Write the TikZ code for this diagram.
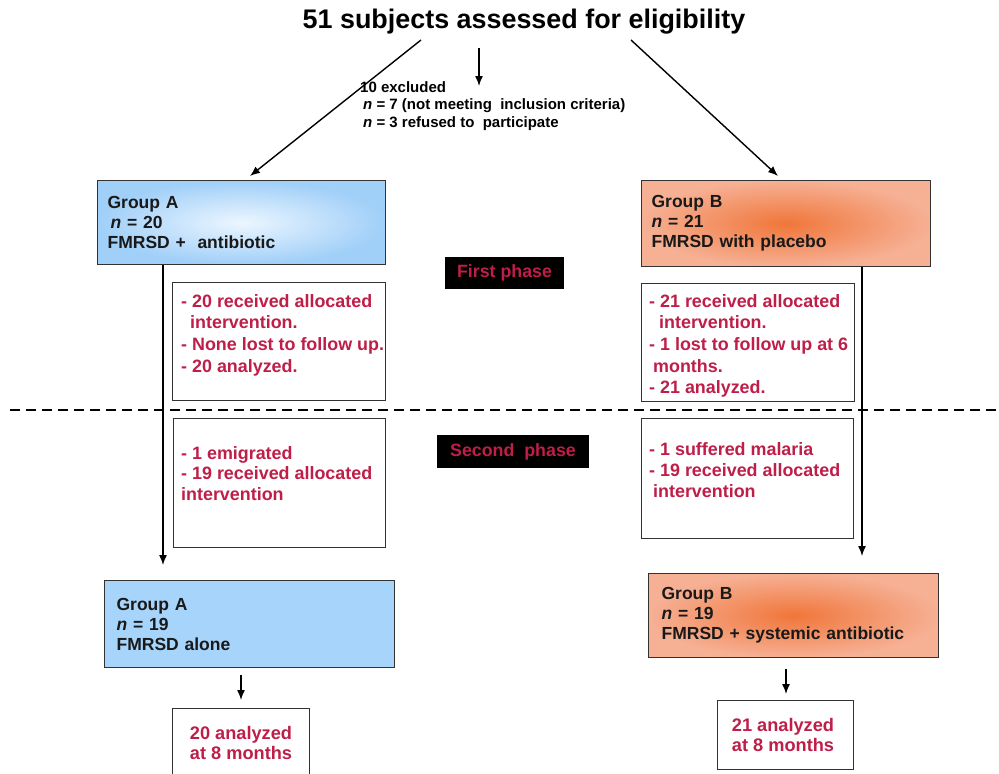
\documentclass[tikz,border=0pt]{standalone}
\usepackage{fontspec}
\setmainfont{Liberation Sans}
\usetikzlibrary{arrows.meta,calc}
\definecolor{txtred}{RGB}{190,30,72}
\definecolor{boxline}{RGB}{50,50,50}
\definecolor{blueedge}{RGB}{160,207,248}
\definecolor{bluemid}{RGB}{236,246,255}
\definecolor{blueflat}{RGB}{166,212,250}
\definecolor{orcore}{RGB}{240,118,58}
\definecolor{oredge}{RGB}{246,176,148}
\tikzset{
 grpbox/.style={draw=boxline, line width=1.2pt, anchor=north west, inner xsep=10pt, inner ysep=0pt, align=left, font=\fontsize{17.5}{20}\selectfont\bfseries, text=black!90},
 redbox/.style={draw=boxline, line width=1.2pt, fill=white, anchor=north west, inner sep=0pt},
 redtext/.style={anchor=north west, inner sep=0pt, align=left, text=txtred, font=\fontsize{17.9}{21.7}\selectfont\bfseries},
 phasebox/.style={fill=black, text=txtred, font=\fontsize{17.8}{18}\selectfont\bfseries, inner sep=0pt},
 arr/.style={-{Latex[length=10pt,width=8pt]}, line width=1.4pt},
 phaseline/.style={line width=1.8pt, dash pattern=on 10pt off 6pt},
}
\begin{document}
\begin{tikzpicture}[x=1pt,y=-1pt]
\clip (0,0) rectangle (999,774);
\fill[white] (0,0) rectangle (999,774);

% title
\node[font=\fontsize{26.9}{30}\selectfont\bfseries, inner sep=0pt] (title) at (524,22) {51 subjects assessed for eligibility};

% exclusion text
\node[anchor=north west, inner sep=0pt, align=left, font=\fontsize{15}{17.5}\selectfont\bfseries] (excl) at (360,81)
 {10 excluded\\\hspace*{3pt}\textit{n} = 7 (not meeting\ \ inclusion criteria)\\\hspace*{3pt}\textit{n} = 3 refused to\ \ participate};

% groups first phase
\node[grpbox, inner color=bluemid, outer color=blueedge, text width=268pt, minimum height=84pt] (gA) at (97,180)
 {Group A\\\hspace*{3pt}\textit{n} = 20\\FMRSD +\ \ antibiotic};
\node[grpbox, inner color=orcore, outer color=oredge, text width=269pt, minimum height=86pt] (gB) at (641,180)
 {Group B\\\textit{n} = 21\\FMRSD with placebo};

% title arrows
\coordinate (tL) at (421,40);
\coordinate (tR) at (631,40);
\coordinate (tM) at (479,48);
\coordinate (tMe) at (479,86);
\draw[arr] (tL) -- ($(gA.north west)+(153,-4)$);
\draw[arr] (tR) -- ($(gB.north west)+(137,-4)$);
\draw[arr] (tM) -- (tMe);

% phase labels
\node[phasebox, minimum width=119pt, minimum height=32pt] (p1) at (504.5,273) {First phase};
\node[phasebox, minimum width=152pt, minimum height=33pt] (p2) at (513,451.5) {Second\ \ phase};

% first phase boxes
\node[redbox, minimum width=213pt, minimum height=118pt] (a1) at (172,282) {};
\node[redtext] (a1t) at (181,294) {- 20 received allocated\\\hspace*{9pt}intervention.\\- None lost to follow up.\\- 20 analyzed.};
\node[redbox, minimum width=213pt, minimum height=118pt] (b1) at (641,283) {};
\node[redtext] (b1t) at (649,294) {- 21 received allocated\\\hspace*{10pt}intervention.\\- 1 lost to follow up at 6\\\hspace*{4pt}months.\\- 21 analyzed.};

% dashed separator
\coordinate (dL) at (10,410);
\coordinate (dR) at (999,410);
\draw[phaseline] (dL) -- (dR);

% second phase boxes
\node[redbox, minimum width=212pt, minimum height=129pt] (a2) at (173,418) {};
\node[redtext, font=\fontsize{17.9}{20.8}\selectfont\bfseries] (a2t) at (181,446) {- 1 emigrated\\- 19 received allocated\\intervention};
\node[redbox, minimum width=212pt, minimum height=120pt] (b2) at (641,418) {};
\node[redtext, font=\fontsize{17.9}{21.3}\selectfont\bfseries] (b2t) at (649,442) {- 1 suffered malaria\\- 19 received allocated\\\hspace*{4pt}intervention};

% vertical arrows
\coordinate (aEnd) at (163,565);
\coordinate (bEnd) at (862,556);
\draw[arr] (gA.south -| aEnd) -- (aEnd);
\draw[arr] (gB.south -| bEnd) -- (bEnd);

% groups second phase
\node[grpbox, fill=blueflat, inner xsep=12pt, text width=266pt, minimum height=87pt] (gA2) at (104,580)
 {Group A\\\textit{n} = 19\\FMRSD alone};
\node[grpbox, inner color=orcore, outer color=oredge, inner xsep=13pt, text width=264pt, minimum height=84pt] (gB2) at (648,573)
 {Group B\\\textit{n} = 19\\FMRSD + systemic antibiotic};

% small arrows
\coordinate (sA1) at (241,675);
\coordinate (sA2) at (241,700);
\coordinate (sB1) at (786,669);
\coordinate (sB2) at (786,694);
\draw[arr] (sA1) -- (sA2);
\draw[arr] (sB1) -- (sB2);

% analyzed boxes
\node[redbox, minimum width=137pt, minimum height=90pt] (a3) at (172,708) {};
\node[text=txtred, font=\fontsize{18.2}{20}\selectfont\bfseries, align=center, inner sep=0pt] (a3t) at (241,743) {20 analyzed\\at 8 months};
\node[redbox, minimum width=136pt, minimum height=69pt] (b3) at (717,700) {};
\node[text=txtred, font=\fontsize{18.2}{20}\selectfont\bfseries, align=center, inner sep=0pt] (b3t) at (783,735) {21 analyzed\\at 8 months};
\end{tikzpicture}
\end{document}
